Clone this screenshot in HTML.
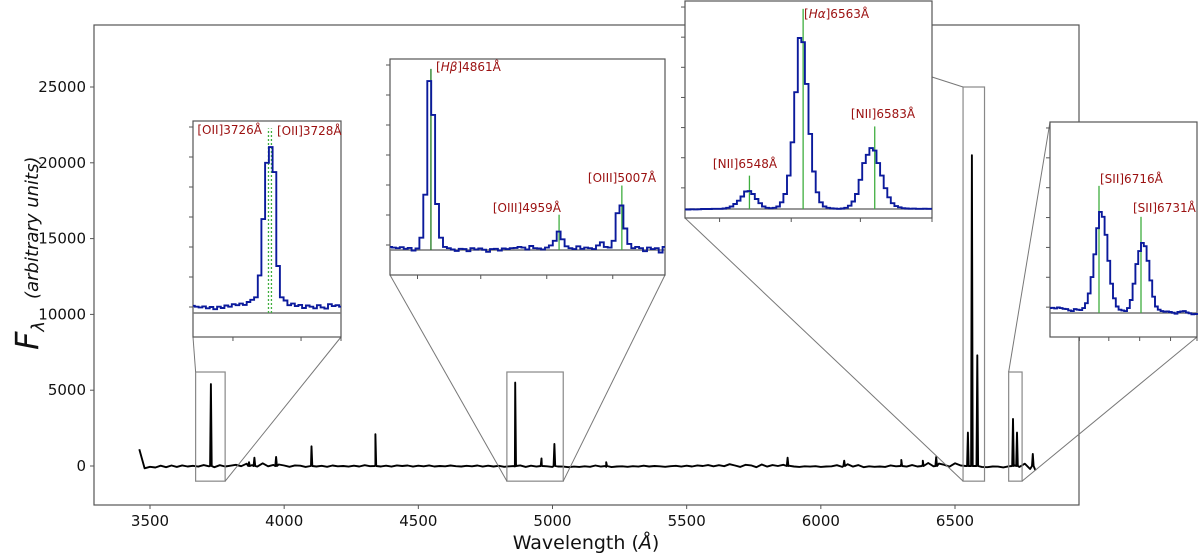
<!DOCTYPE html>
<html><head><meta charset="utf-8"><style>
html,body{margin:0;padding:0;background:#fff;}
svg{display:block;font-family:"DejaVu Sans","Liberation Sans",sans-serif;}
</style></head><body>
<svg id="chart" width="1200" height="555" viewBox="0 0 1200 555" xmlns="http://www.w3.org/2000/svg">
<g id="main"></g>
<g id="insets"></g>
</svg>
<script>
// ---- main spectrum data ----
const baseStart = 3460, baseStep = 20;
const baseFlux = [
1100,-150,-50,-100,20,-80,30,-60,40,-30,
10,-40,60,-20,-80,50,-30,20,80,-10,
150,60,-40,180,-20,70,100,30,-50,40,
20,-60,40,-30,10,-50,30,-20,0,-40,
20,-30,50,-10,60,-30,20,-40,40,0,
30,-40,20,-20,40,-30,0,-20,30,-10,
-30,10,-20,30,-40,20,-30,10,-50,-20,
-30,40,-60,20,-40,50,-20,-60,-30,-40,
-80,-40,-60,-20,-50,30,-40,-60,-70,-30,
-20,-50,-10,-40,20,-30,0,-20,-50,-10,
10,-40,20,-30,40,0,60,-20,50,-10,
120,30,-60,80,40,-80,100,-40,60,0,
80,20,-30,-60,-20,-40,-10,-60,-30,-20,
50,-60,120,-40,60,-80,-20,-50,-30,-60,
40,-20,150,-40,60,-30,120,200,-20,160,
80,-40,180,40,0,0,0,-60,-80,-30,
-40,-90,-20,60,-60,150,-200,-300];
const lineWaves = [3727,3869,3889,3970,4102,4340,4861,4959,5007,5200,5876,6087,6300,6380,6430,6548,6563,6583,6716,6731,6790];
const linePeaks = [5400,250,550,600,1300,2100,5500,500,1450,250,550,350,400,350,600,2200,20500,7300,3100,2200,800];
const xTicks = [3500,4000,4500,5000,5500,6000,6500];
const yTicks = [0,5000,10000,15000,20000,25000];
const zoomBoxes = [[3670,3780,-1000,6200],[4830,5040,-1000,6200],[6530,6610,-1000,25000],[6700,6750,-1000,6200]];

// ---- inset data ----
const inset1Flux = [230,200,180,210,150,190,120,200,160,240,
200,280,250,300,260,350,420,500,1200,3000,
4800,5300,4500,1500,500,400,250,300,220,260,
160,240,200,150,250,180,140,280,220,250,200];
const inset2Flux = [100,80,60,90,40,70,-20,50,400,1800,
5500,4400,1500,400,100,
60,20,-30,40,30,-40,60,20,50,10,-60,30,40,-20,50,30,60,70,100,80,20,130,60,50,20,80,150,300,
600,350,120,
60,30,120,40,80,60,30,150,250,100,80,300,
1200,1450,700,200,
60,100,60,-40,80,30,60,-80,100];
const inset3Flux = [-50,-60,-40,-50,-30,0,0,0,20,30,
20,60,150,300,600,1000,1500,2100,2150,1800,
1200,700,300,150,100,150,300,800,1800,4000,
8000,14000,20500,20000,15000,9000,4500,2000,800,300,
150,80,50,30,60,150,400,900,1800,3500,
5500,6500,7300,7000,5500,4000,2500,1400,700,350,
200,100,60,40,50,30,20,40,20,30];
const inset4Flux = [150,160,140,170,150,130,120,80,60,120,
100,90,150,300,600,1100,1800,2600,3100,2950,
2400,1600,900,450,200,100,80,60,150,400,
900,1500,1900,2150,2050,1600,1000,500,200,100,
60,40,50,30,10,-20,30,50,60,20,
-10,-40,-30,-60];
const inset1Lines = ["[OII]3726Å","[OII]3728Å"];
const inset2Lines = ["[Hβ]4861Å","[OIII]4959Å","[OIII]5007Å"];
const inset3Lines = ["[NII]6548Å","[Hα]6563Å","[NII]6583Å"];
const inset4Lines = ["[SII]6716Å","[SII]6731Å"];

const NS="http://www.w3.org/2000/svg";
function mk(tag, attrs, parent){const e=document.createElementNS(NS,tag);for(const k in attrs)e.setAttribute(k,attrs[k]);parent.appendChild(e);return e;}
const X0=94,X1=1079,Y0=25,Y1=505;
const xs = w => 150 + (w-3500)*(955-150)/3000;
const ys = f => 466 - f*(466-87)/25000;
const main=document.getElementById('main');
const insG=document.getElementById('insets');

let pts=[];
baseFlux.forEach((f,i)=>pts.push([baseStart+i*baseStep,f]));
lineWaves.forEach((w,i)=>{pts.push([w-3,0]);pts.push([w,linePeaks[i]]);pts.push([w+3,0]);});
pts.sort((a,b)=>a[0]-b[0]);
const sp=mk('path',{d:'M'+pts.map(p=>xs(p[0]).toFixed(1)+','+ys(p[1]).toFixed(1)).join('L'),fill:'none',stroke:'#000','stroke-width':1.9,'stroke-linejoin':'round'},main);



zoomBoxes.forEach((b,i)=>{
  const r=mk('rect',{x:xs(b[0]),y:ys(b[3]),width:xs(b[1])-xs(b[0]),height:ys(b[2])-ys(b[3]),fill:'none',stroke:'#888','stroke-width':1.2},main);
  
  
});

const fr=mk('rect',{x:X0,y:Y0,width:X1-X0,height:Y1-Y0,fill:'none',stroke:'#555','stroke-width':1.2},main);


xTicks.forEach(t=>{
  mk('line',{x1:xs(t),x2:xs(t),y1:Y1,y2:Y1+4,stroke:'#555'},main);
  const tx=mk('text',{x:xs(t),y:Y1+21,'text-anchor':'middle','font-size':15,fill:'#111'},main);
  tx.textContent=t;
  
  
});
yTicks.forEach(t=>{
  mk('line',{x1:X0-4,x2:X0,y1:ys(t),y2:ys(t),stroke:'#555'},main);
  const tx=mk('text',{x:X0-8,y:ys(t)+5,'text-anchor':'end','font-size':15,fill:'#111'},main);
  tx.textContent=t;
  
  
});
const xl=mk('text',{x:586,y:549,'text-anchor':'middle','font-size':19,fill:'#111'},main);
xl.innerHTML='Wavelength (<tspan font-style="italic">Å</tspan>)';


const yl=mk('text',{transform:'translate(38,350) rotate(-90)','text-anchor':'start',fill:'#111'},main);
yl.innerHTML='<tspan font-size="32" font-style="italic">F</tspan><tspan font-size="18" font-style="italic" dy="6">λ</tspan><tspan dx="22" dy="-6" font-size="18" font-style="italic">(arbitrary units)</tspan>';



const conns=[[xs(3670),ys(6200),193,337],[xs(3780),ys(-1000),341,337],[xs(4830),ys(-1000),390,275],[xs(5040),ys(-1000),665,275],
[xs(6530),ys(25000),932,77],[xs(6530),ys(-1000),685,218],[xs(6700),ys(6200),1050,122],[xs(6750),ys(-1000),1197,337]];
conns.forEach(c=>{
  const l=mk('line',{x1:c[0],y1:c[1],x2:c[2],y2:c[3],stroke:'#777','stroke-width':1},main);
  
  
});

function inset(name,box,wmin,wmax,step,fBot,fTop,flux,lines,labels,ticksX){
  const g=mk('g',{},insG);
  
  
  const [bx0,by0,bx1,by1]=box;
  const ix=w=>bx0+(w-wmin)/(wmax-wmin)*(bx1-bx0);
  const iy=f=>by1-(f-fBot)/(fTop-fBot)*(by1-by0);
  mk('rect',{x:bx0,y:by0,width:bx1-bx0,height:by1-by0,fill:'#fff',stroke:'#555','stroke-width':1.2},g);
  mk('line',{x1:bx0,x2:bx1,y1:iy(0),y2:iy(0),stroke:'#777','stroke-width':1.5},g);
  for(let k=1;k<=7;k++){const yy=by1-k*(by1-by0)/7.2; if(yy>by0+2) mk('line',{x1:bx0-4,x2:bx0,y1:yy,y2:yy,stroke:'#555'},g);}
  ticksX.forEach(t=>mk('line',{x1:bx0+t*(bx1-bx0),x2:bx0+t*(bx1-bx0),y1:by1,y2:by1+4,stroke:'#555'},g));
  lines.forEach(L=>{
    const gl=mk('line',{x1:ix(L.w),x2:ix(L.w),y1:iy(0),y2:iy(L.top),stroke:L.c||'#3fae3f','stroke-width':1.3,'stroke-dasharray':L.dash||'none'},g);
    
    
  });
  let d='';
  flux.forEach((f,i)=>{const w=wmin+i*step;const xa=Math.max(bx0,ix(w-step/2)),xb=Math.min(bx1,ix(w+step/2));
    d+=(i===0?'M':'L')+xa.toFixed(1)+','+iy(f).toFixed(1)+'L'+xb.toFixed(1)+','+iy(f).toFixed(1);});
  const p=mk('path',{d:d,fill:'none',stroke:'#0b1a9c','stroke-width':1.9},g);
  
  
  labels.forEach(Lb=>{
    const t=mk('text',{x:Lb.x,y:Lb.y,'text-anchor':Lb.a||'start','font-size':12,fill:'#9b1010'},g);
    t.innerHTML=Lb.html;
    
    
  });
}
inset('inset-oii',[193,121,341,337],3675,3775,2.5,-767,6134,inset1Flux,
 [{w:3726,top:5900,dash:'2,2'},{w:3728,top:5900,dash:'2,2'}],
 [{x:262,y:134,a:'end',html:inset1Lines[0]},{x:277,y:135,html:inset1Lines[1]}],[0.27,0.73,1]);
inset('inset-hbeta-oiii',[390,59,665,275],4829.7,5040,3,-814,6221,inset2Flux,
 [{w:4861,top:5900,c:'#1f7a1f'},{w:4959,top:1150},{w:5007,top:2100}],
 [{x:436,y:71,html:'[<tspan font-style="italic">Hβ</tspan>]4861Å'},{x:561,y:212,a:'end',html:inset2Lines[1]},{x:622,y:182,a:'middle',html:inset2Lines[2]}],[0.1,0.33,0.57,0.81]);
inset('inset-halpha-nii',[685,1,932,218],6530,6599,1,-1079,24940,inset3Flux,
 [{w:6548,top:4000},{w:6563,top:24000},{w:6583,top:9900}],
 [{x:745,y:168,a:'middle',html:inset3Lines[0]},{x:804,y:18,html:'[<tspan font-style="italic">Hα</tspan>]6563Å'},{x:883,y:118,a:'middle',html:inset3Lines[2]}],[0.14,0.43,0.71,1]);
inset('inset-sii',[1050,122,1197,337],6698.5,6751,1,-736,5859,inset4Flux,
 [{w:6716,top:3900},{w:6731,top:2950}],
 [{x:1100,y:183,html:inset4Lines[0]},{x:1133,y:212,html:inset4Lines[1]}],[0.2,0.4,0.61,0.82,1]);
</script>
</body></html>
